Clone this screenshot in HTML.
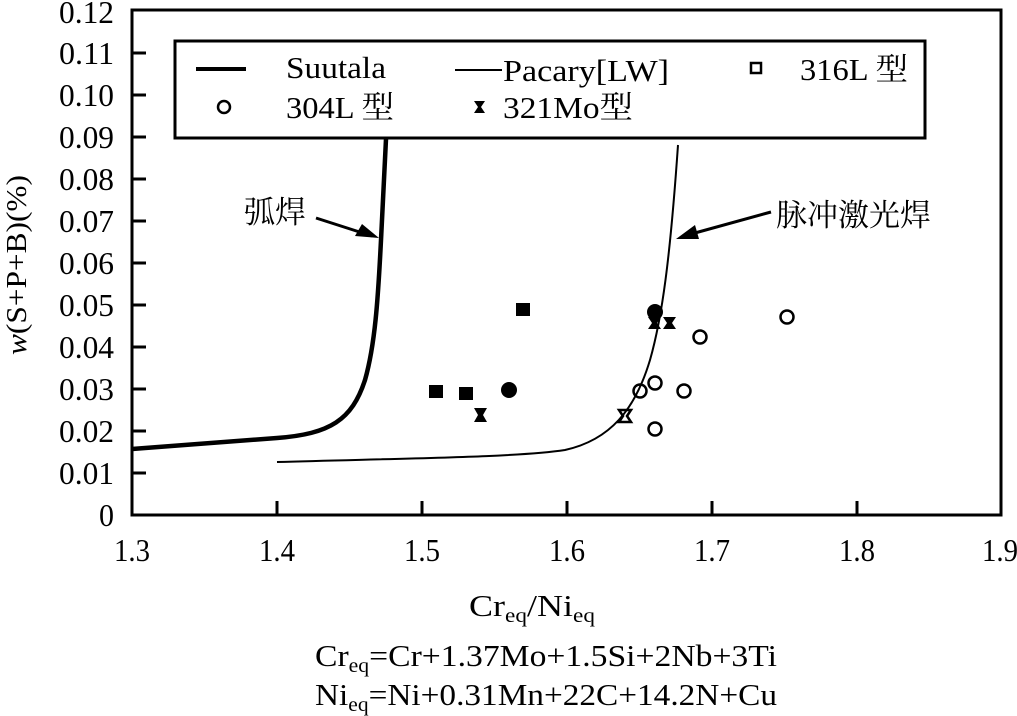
<!DOCTYPE html>
<html><head><meta charset="utf-8"><style>html,body{margin:0;padding:0;background:#fff}svg{display:block}</style></head>
<body>
<svg width="1017" height="716" viewBox="0 0 1017 716" xmlns="http://www.w3.org/2000/svg" font-family="'Liberation Serif','Noto Serif CJK SC',serif" fill="#000">
<rect x="0" y="0" width="1017" height="716" fill="#fff"/>
<rect x="132" y="10" width="869" height="505" fill="none" stroke="#000" stroke-width="3"/>
<g stroke="#000" stroke-width="3">
<line x1="132" y1="473" x2="146" y2="473"/><line x1="132" y1="431" x2="146" y2="431"/>
<line x1="132" y1="389" x2="146" y2="389"/><line x1="132" y1="347" x2="146" y2="347"/>
<line x1="132" y1="305" x2="146" y2="305"/><line x1="132" y1="263" x2="146" y2="263"/>
<line x1="132" y1="221" x2="146" y2="221"/><line x1="132" y1="179" x2="146" y2="179"/>
<line x1="132" y1="137" x2="146" y2="137"/><line x1="132" y1="95" x2="146" y2="95"/>
<line x1="132" y1="53" x2="146" y2="53"/>
<line x1="277" y1="515" x2="277" y2="501"/><line x1="422" y1="515" x2="422" y2="501"/>
<line x1="567" y1="515" x2="567" y2="501"/><line x1="712" y1="515" x2="712" y2="501"/>
<line x1="857" y1="515" x2="857" y2="501"/>
</g>
<g font-size="32" text-anchor="end">
<text x="114" y="526" textLength="15" lengthAdjust="spacingAndGlyphs">0</text>
<text x="114" y="484" textLength="55" lengthAdjust="spacingAndGlyphs">0.01</text>
<text x="114" y="442" textLength="55" lengthAdjust="spacingAndGlyphs">0.02</text>
<text x="114" y="400" textLength="55" lengthAdjust="spacingAndGlyphs">0.03</text>
<text x="114" y="358" textLength="55" lengthAdjust="spacingAndGlyphs">0.04</text>
<text x="114" y="316" textLength="55" lengthAdjust="spacingAndGlyphs">0.05</text>
<text x="114" y="274" textLength="55" lengthAdjust="spacingAndGlyphs">0.06</text>
<text x="114" y="232" textLength="55" lengthAdjust="spacingAndGlyphs">0.07</text>
<text x="114" y="190" textLength="55" lengthAdjust="spacingAndGlyphs">0.08</text>
<text x="114" y="148" textLength="55" lengthAdjust="spacingAndGlyphs">0.09</text>
<text x="114" y="106" textLength="55" lengthAdjust="spacingAndGlyphs">0.10</text>
<text x="114" y="64" textLength="55" lengthAdjust="spacingAndGlyphs">0.11</text>
<text x="114" y="23" textLength="55" lengthAdjust="spacingAndGlyphs">0.12</text>
</g>
<g font-size="32">
<text x="114" y="561" textLength="36" lengthAdjust="spacingAndGlyphs">1.3</text>
<text x="259" y="561" textLength="36" lengthAdjust="spacingAndGlyphs">1.4</text>
<text x="404" y="561" textLength="36" lengthAdjust="spacingAndGlyphs">1.5</text>
<text x="549" y="561" textLength="36" lengthAdjust="spacingAndGlyphs">1.6</text>
<text x="694" y="561" textLength="36" lengthAdjust="spacingAndGlyphs">1.7</text>
<text x="839" y="561" textLength="36" lengthAdjust="spacingAndGlyphs">1.8</text>
<text x="982" y="561" textLength="36" lengthAdjust="spacingAndGlyphs">1.9</text>
</g>
<text transform="translate(26,265) rotate(-90)" font-size="29" text-anchor="middle" textLength="180" lengthAdjust="spacingAndGlyphs"><tspan font-style="italic">w</tspan>(S+P+B)(%)</text>
<text x="469" y="616" font-size="31" textLength="126" lengthAdjust="spacingAndGlyphs">Cr<tspan font-size="20" dy="6">eq</tspan><tspan dy="-6">/Ni</tspan><tspan font-size="20" dy="6">eq</tspan></text>
<text x="315" y="666" font-size="31" textLength="462" lengthAdjust="spacingAndGlyphs">Cr<tspan font-size="20" dy="6">eq</tspan><tspan dy="-6">=Cr+1.37Mo+1.5Si+2Nb+3Ti</tspan></text>
<text x="315" y="705" font-size="31" textLength="462" lengthAdjust="spacingAndGlyphs">Ni<tspan font-size="20" dy="6">eq</tspan><tspan dy="-6">=Ni+0.31Mn+22C+14.2N+Cu</tspan></text>
<rect x="175" y="41" width="750" height="97" fill="#fff" stroke="#000" stroke-width="3"/>
<line x1="196" y1="69" x2="246" y2="69" stroke="#000" stroke-width="4"/>
<text x="286" y="78" font-size="31" textLength="100" lengthAdjust="spacingAndGlyphs">Suutala</text>
<line x1="455" y1="70" x2="502" y2="70" stroke="#000" stroke-width="2"/>
<text x="503" y="81" font-size="31" textLength="166" lengthAdjust="spacingAndGlyphs">Pacary[LW]</text>
<rect x="751" y="63" width="10" height="10" fill="none" stroke="#000" stroke-width="2.5"/>
<text x="800" y="80" font-size="31" textLength="108" lengthAdjust="spacingAndGlyphs">316L 型</text>
<circle cx="224" cy="107" r="6" fill="none" stroke="#000" stroke-width="2.5"/>
<text x="286" y="118" font-size="31" textLength="108" lengthAdjust="spacingAndGlyphs">304L 型</text>
<path d="M474,101 h11 l-4,6 l4,6 h-11 l4,-6 z" fill="#000"/>
<text x="503" y="118" font-size="31" textLength="130" lengthAdjust="spacingAndGlyphs">321Mo型</text>
<path d="M132,449 L277,438 C330,434 352,420 365,380 C375,345 378,300 381,240 L386,139" fill="none" stroke="#000" stroke-width="4.5"/>
<path d="M277,462 C420,458 520,457 565,450 C610,440 635,410 650,360 C662,318 670,260 678,145" fill="none" stroke="#000" stroke-width="2"/>
<text x="244" y="223" font-size="31">弧焊</text>
<line x1="316" y1="218" x2="372" y2="236" stroke="#000" stroke-width="3"/>
<path d="M379,238 L355,236 L362,224 Z" fill="#000"/>
<text x="776" y="226" font-size="31">脉冲激光焊</text>
<line x1="771" y1="212" x2="684" y2="236" stroke="#000" stroke-width="3"/>
<path d="M676,239 L695,225 L699,239 Z" fill="#000"/>
<g fill="#000">
<rect x="429" y="385" width="14" height="13"/>
<rect x="459" y="387" width="14" height="13"/>
<rect x="516" y="303" width="14" height="13"/>
<circle cx="509" cy="390" r="8"/>
<circle cx="655" cy="312" r="8"/>
<path d="M474,408 h13 l-4,7 l4,7 h-13 l4,-7 z"/>
<path d="M648,317 h13 l-4,6 l4,6 h-13 l4,-6 z"/>
<path d="M663,317 h13 l-4,6 l4,6 h-13 l4,-6 z"/>
</g>
<path d="M619,410 h12 l-4,6 l4,6 h-12 l4,-6 z" fill="none" stroke="#000" stroke-width="2.5"/>
<g fill="none" stroke="#000" stroke-width="2.5">
<circle cx="640" cy="391" r="6.5"/>
<circle cx="655" cy="383" r="6.5"/>
<circle cx="684" cy="391" r="6.5"/>
<circle cx="655" cy="429" r="6.5"/>
<circle cx="700" cy="337" r="6.5"/>
<circle cx="787" cy="317" r="6.5"/>
</g>
</svg>
</body></html>
